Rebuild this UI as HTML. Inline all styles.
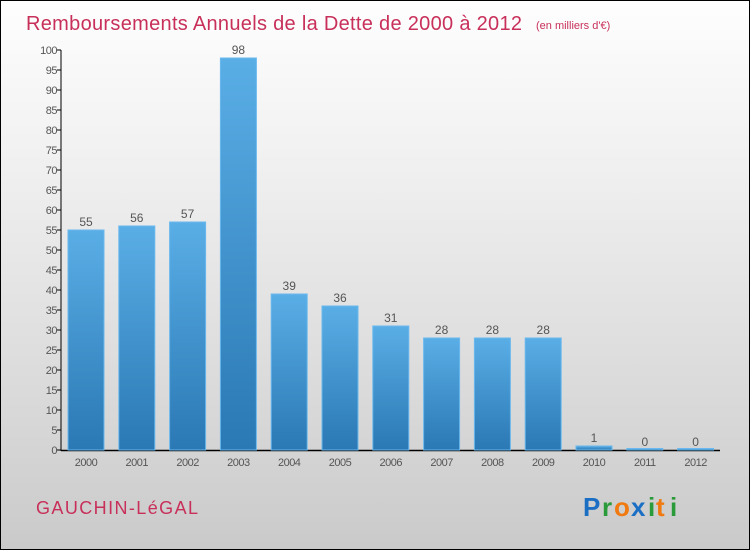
<!DOCTYPE html>
<html><head><meta charset="utf-8"><style>
html,body{margin:0;padding:0}
body{width:750px;height:550px;overflow:hidden}
#c{position:absolute;left:0;top:0;width:748px;height:548px;border:1px solid #000;background:linear-gradient(#fefefe,#f0f0f0 30%,#d8d8d8 75%,#cacaca);}
</style></head><body>
<div id="c">
<svg width="750" height="550" style="position:absolute;left:-1px;top:-1px" font-family="Liberation Sans, sans-serif">
<defs><linearGradient id="bg" x1="0" y1="0" x2="0" y2="1"><stop offset="0" stop-color="#5aaee6"/><stop offset="1" stop-color="#2a78b4"/></linearGradient></defs>
<text x="26" y="30" font-size="20" textLength="496" fill="#c8305a">Remboursements Annuels de la Dette de 2000 à 2012</text>
<text x="536" y="29" font-size="11" fill="#c8305a">(en milliers d'€)</text>
<g id="axes"></g><g id="bars"></g>
<text x="36" y="514" font-size="18" textLength="162" fill="#c8305a">GAUCHIN-LéGAL</text>
<g font-size="26" font-weight="bold"><text x="583" y="516" fill="#1a6fc4">P</text><text x="602" y="516" fill="#2a9a3a">r</text><text x="614" y="516" fill="#f07a10">o</text><text x="631" y="516" fill="#1a6fc4">x</text><text x="648" y="516" fill="#2a9a3a">i</text><text x="656" y="516" fill="#f07a10">t</text><text x="670" y="516" fill="#2a9a3a">i</text></g>
</svg></div>
<script>
const years=["2000","2001","2002","2003","2004","2005","2006","2007","2008","2009","2010","2011","2012"];
const values=[55,56,57,98,39,36,31,28,28,28,1,0,0];
const yTicks=[0,5,10,15,20,25,30,35,40,45,50,55,60,65,70,75,80,85,90,95,100];
const NS="http://www.w3.org/2000/svg";
const y=v=>450-v*4, x=i=>86+i*50.8;
const ax=document.getElementById('axes'), bg=document.getElementById('bars');
function mk(t,a,p){const e=document.createElementNS(NS,t);for(const k in a)e.setAttribute(k,a[k]);p.appendChild(e);return e;}
const yl=mk('line',{x1:61,y1:50,x2:61,y2:451,stroke:'#000'},ax);


const xl=mk('line',{x1:61,y1:450.5,x2:720,y2:450.5,stroke:'#000','stroke-width':1.5},ax);


yTicks.forEach(v=>{
 mk('line',{x1:57,y1:y(v),x2:61,y2:y(v),stroke:'#000'},ax);
 const t=mk('text',{x:57,y:y(v)+4,'text-anchor':'end','font-size':11,fill:'#555','letter-spacing':'-0.5'},ax);t.textContent=v;
 
 
});
years.forEach((yr,i)=>{
 const h=Math.max(values[i]*4,1.5);
 const r=mk('rect',{x:x(i)-18,y:450-h,width:36,height:h,fill:'url(#bg)',stroke:'#6ab8ee','stroke-width':1},bg);
 
 
 const l=mk('text',{x:x(i),y:y(values[i])-4,'text-anchor':'middle','font-size':12,fill:'#555'},bg);l.textContent=values[i];
 
 
 const t=mk('text',{x:x(i),y:466,'text-anchor':'middle','font-size':11,fill:'#555','letter-spacing':'-0.5'},ax);t.textContent=yr;
 
 
});
</script>
</body></html>
